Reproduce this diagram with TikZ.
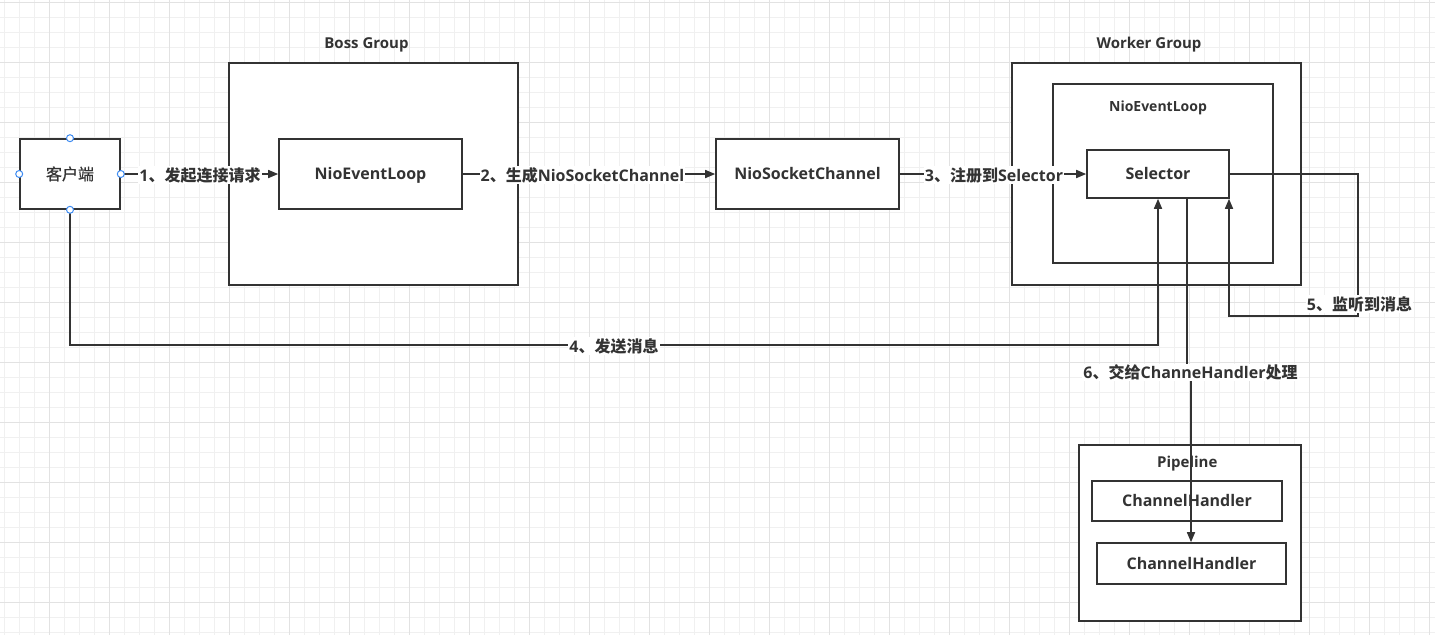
\documentclass[tikz,border=0pt]{standalone}
\usepackage{fontspec}
\setmainfont{Open Sans}
\newfontfamily\cjk{Noto Sans CJK SC}
\newfontfamily\cjkmed[FakeBold=0.6]{Noto Sans CJK SC}
\usetikzlibrary{arrows.meta}
\definecolor{ink}{HTML}{333333}
\definecolor{gridminor}{HTML}{F0F0F0}
\definecolor{gridmajor}{HTML}{E2E2E2}
\definecolor{handle}{HTML}{3D8BF2}
\begin{document}
\begin{tikzpicture}[x=1pt,y=-1pt,
  box/.style={draw=ink, line width=1.6pt, fill=white, inner sep=0pt, text=ink,
    text height=11.4pt, text depth=0pt,
    font=\bfseries\fontsize{16}{16}\selectfont},
  plainbox/.style={box, font=\fontsize{16}{16}\selectfont, text height=12pt},
  title/.style={text=ink, inner sep=0pt, text height=10.7pt, text depth=0pt,
    font=\bfseries\fontsize{15}{15}\selectfont},
  smalltitle/.style={text=ink, inner sep=0pt, text height=10pt, text depth=0pt,
    font=\bfseries\fontsize{14}{14}\selectfont},
  conn/.style={draw=ink, line width=1.6pt},
  arr/.style={conn, -{Triangle[length=10pt,width=8pt]}},
  elabel/.style={fill=white, text=ink, inner sep=1pt, font=\bfseries\fontsize{16}{16}\selectfont},
  hnd/.style={draw=handle, fill=white, line width=1pt, circle, inner sep=0pt, minimum size=7pt}]
\useasboundingbox (0,0) rectangle (1435,635);
\fill[white] (0,0) rectangle (1435,635);
% grid
\foreach \x in {4.3,19.3,...,1435} \draw[gridminor, line width=0.8pt] (\x,0) -- (\x,635);
\foreach \y in {2.3,17.3,...,635} \draw[gridminor, line width=0.8pt] (0,\y) -- (1435,\y);
\foreach \x in {49.3,109.3,...,1435} \draw[gridmajor, line width=0.8pt] (\x,0) -- (\x,635);
\foreach \y in {2.3,62.3,...,635} \draw[gridmajor, line width=0.8pt] (0,\y) -- (1435,\y);

% containers
\node[box, minimum width=289pt, minimum height=222pt] (boss) at (373.5,174) {};
\node[title] (bosst) at (366.5,43.3) {Boss Group};
\node[box, minimum width=289pt, minimum height=222pt] (worker) at (1156.5,174) {};
\node[title] (workert) at (1149,43.3) {Worker Group};
\node[box, minimum width=220pt, minimum height=179pt] (wloop) at (1163,173.5) {};
\node[smalltitle] (wloopt) at (1158,106) {NioEventLoop};
\node[box, minimum width=222pt, minimum height=176pt] (pipe) at (1190,533) {};
\node[title] (pipet) at (1187.3,462.3) {Pipeline};

% boxes
\node[plainbox, minimum width=100pt, minimum height=70pt] (client) at (70,174) {\cjkmed 客户端};
\node[box, minimum width=183pt, minimum height=70pt] (nel) at (370.5,174) {NioEventLoop};
\node[box, minimum width=183pt, minimum height=70pt] (nsc) at (807.5,174) {NioSocketChannel};
\node[box, minimum width=142pt, minimum height=48pt] (sel) at (1158,174) {Selector};
\node[box, minimum width=190pt, minimum height=40pt] (ch1) at (1187,501) {ChannelHandler};
\node[box, minimum width=189pt, minimum height=41pt] (ch2) at (1191.5,563.5) {ChannelHandler};

% route coordinates
\coordinate (c4a) at (70,345);
\coordinate (c4b) at (1158,345);
\coordinate (c5a) at (1358,174);
\coordinate (c5b) at (1358,316);
\coordinate (c5c) at (1229,316);
\coordinate (c6a) at (1187,372);
\coordinate (c6b) at (1191,372);

% connectors
\draw[arr] (client.east) -- (nel.west);
\draw[arr] (nel.east) -- (nsc.west);
\draw[arr] (nsc.east) -- (sel.west);
\draw[arr] (client.south) -- (c4a) -- (c4b) -- (sel.south -| c4b);
\draw[arr] (sel.east) -- (c5a) -- (c5b) -- (c5c) -- (sel.south -| c5c);
\draw[arr] (sel.south -| c6a) -- (c6a) -- (c6b) -- (ch2.north -| c6b);

% edge labels
\node[elabel] (l1) at (200,175) {1{\cjk 、发起连接请求}};
\node[elabel] (l2) at (582.5,175) {2{\cjk 、生成}NioSocketChannel};
\node[elabel] (l3) at (994,175) {3{\cjk 、注册到}Selector};
\node[elabel] (l4) at (614,346) {4{\cjk 、发送消息}};
\node[elabel] (l5) at (1359.5,304) {5{\cjk 、监听到消息}};
\node[elabel] (l6) at (1190.5,372.5) {6{\cjk 、交给}ChanneHandler{\cjk 处理}};

% selection handles
\node[hnd] (h1) at (client.north) {};
\node[hnd] (h2) at (client.south) {};
\node[hnd] (h3) at (client.east) {};
\node[hnd] (h4) at (client.west) {};
\end{tikzpicture}
\end{document}
